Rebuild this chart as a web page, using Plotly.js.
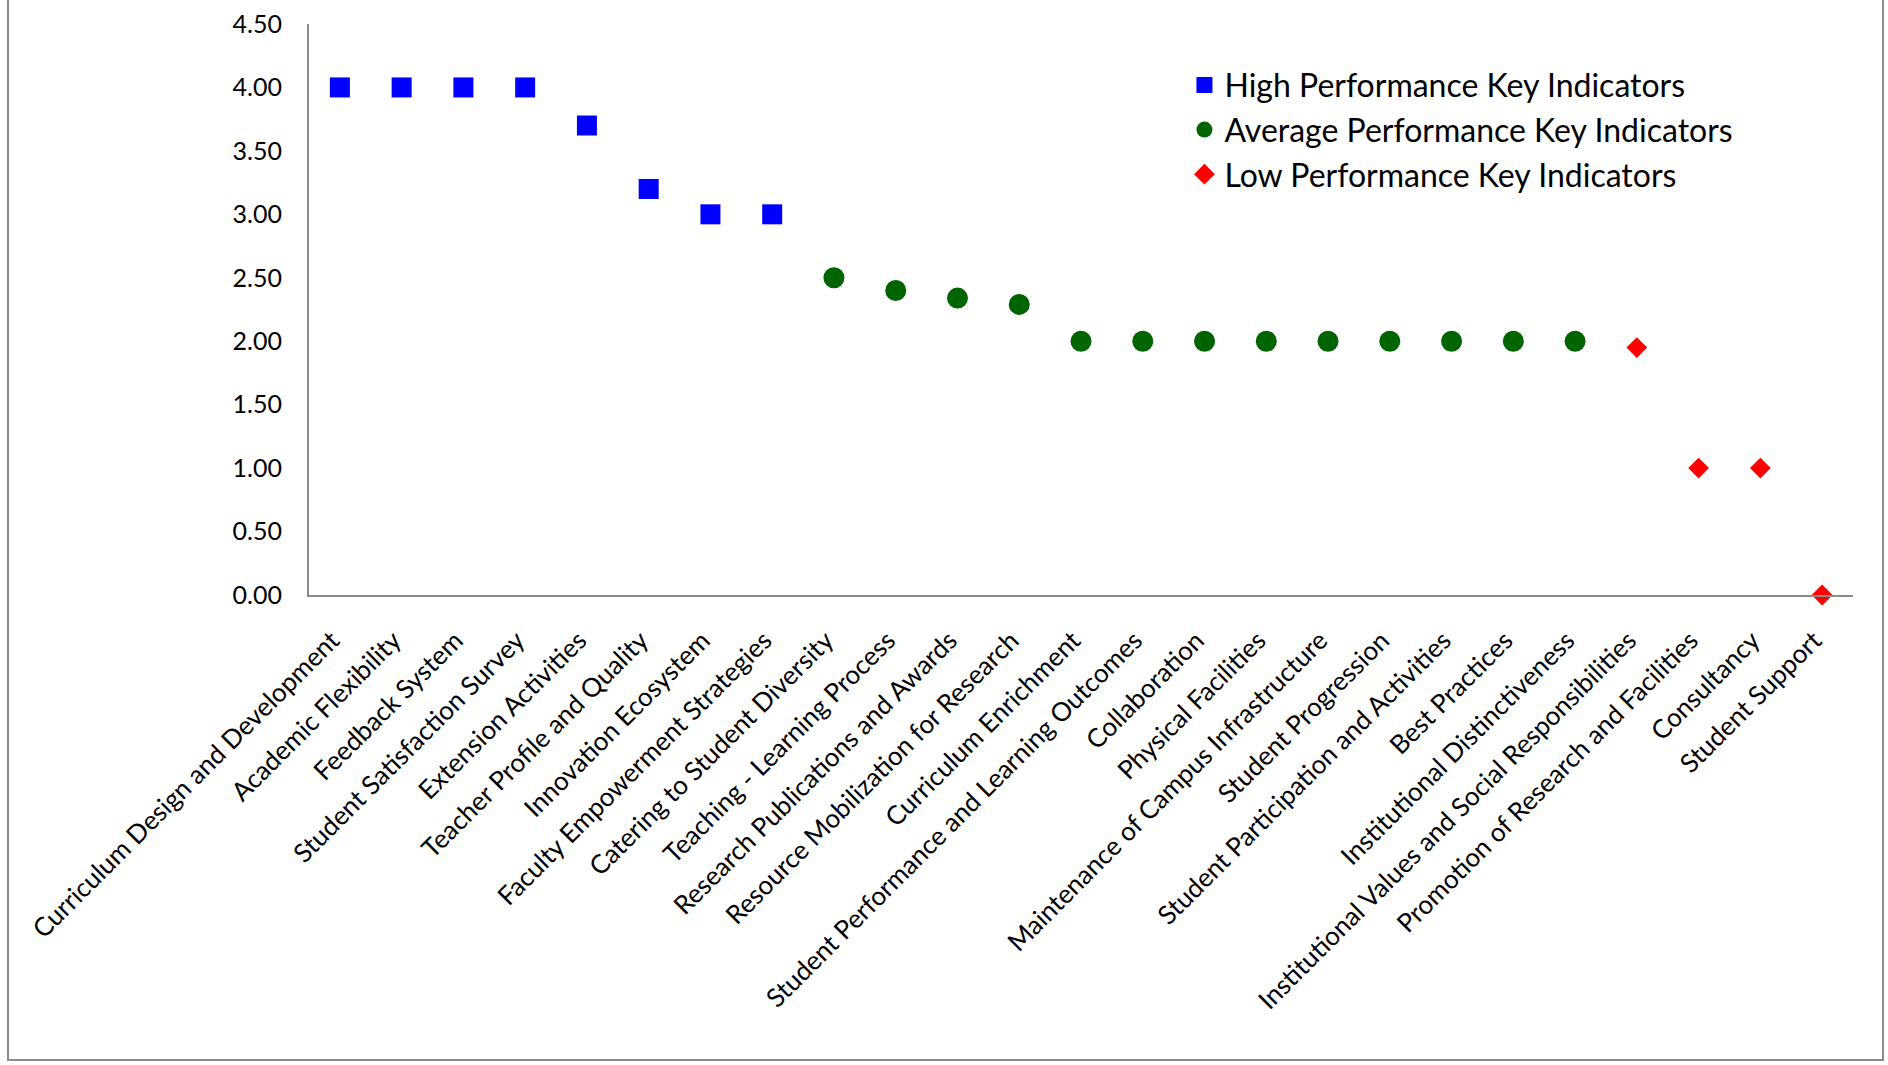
<!DOCTYPE html>
<html>
<head>
<meta charset="utf-8">
<script src="https://cdn.plot.ly/plotly-3.0.1.min.js"></script>
<style>
  html, body { margin: 0; padding: 0; background: #fff; }
  #wrap { position: relative; width: 1888px; height: 1065px; }
  #chart { width: 1888px; height: 1065px; }
  #frame { position: absolute; left: 7px; top: -3px; width: 1877px; height: 1064px;
           border: 2px solid #8c8c8c; box-sizing: border-box; pointer-events: none; }
</style>
</head>
<body>
<div id="wrap">
  <div id="chart"></div>
  <div id="frame"></div>
</div>
<script>
const highCategories = [
  "Curriculum Design and Development",
  "Academic Flexibility",
  "Feedback System",
  "Student Satisfaction Survey",
  "Extension Activities",
  "Teacher Profile and Quality",
  "Innovation Ecosystem",
  "Faculty Empowerment Strategies"
];
const highValues = [4.00, 4.00, 4.00, 4.00, 3.70, 3.20, 3.00, 3.00];

const averageCategories = [
  "Catering to Student Diversity",
  "Teaching - Learning Process",
  "Research Publications and Awards",
  "Resource Mobilization for Research",
  "Curriculum Enrichment",
  "Student Performance and Learning Outcomes",
  "Collaboration",
  "Physical Facilities",
  "Maintenance of Campus Infrastructure",
  "Student Progression",
  "Student Participation and Activities",
  "Best Practices",
  "Institutional Distinctiveness"
];
const averageValues = [2.50, 2.40, 2.34, 2.29, 2.00, 2.00, 2.00, 2.00, 2.00, 2.00, 2.00, 2.00, 2.00];

const lowCategories = [
  "Institutional Values and Social Responsibilities",
  "Promotion of Research and Facilities",
  "Consultancy",
  "Student Support"
];
const lowValues = [1.95, 1.00, 1.00, 0.00];

const seriesNames = [
  "High Performance Key Indicators",
  "Average Performance Key Indicators",
  "Low Performance Key Indicators"
];
const yTickValues = [0, 0.5, 1, 1.5, 2, 2.5, 3, 3.5, 4, 4.5];
const yTickLabels = ["0.00", "0.50", "1.00", "1.50", "2.00", "2.50", "3.00", "3.50", "4.00", "4.50"];

const allCategories = highCategories.concat(averageCategories, lowCategories);
const FONT = "Lato, 'Open Sans', sans-serif";

const traces = [
  {
    type: "scatter", mode: "markers", name: seriesNames[0], legendgroup: "h",
    x: highCategories, y: highValues, cliponaxis: false,
    marker: { symbol: "square", size: 20, color: "#0000ff" }
  },
  {
    type: "scatter", mode: "markers", name: seriesNames[1], legendgroup: "a",
    x: averageCategories, y: averageValues, cliponaxis: false,
    marker: { symbol: "circle", size: 21, color: "#006400" }
  },
  {
    type: "scatter", mode: "markers", name: seriesNames[2], legendgroup: "l",
    x: lowCategories, y: lowValues, cliponaxis: false,
    marker: { symbol: "diamond", size: 16, color: "#ff0000" }
  }
];

const layout = {
  width: 1888, height: 1065,
  paper_bgcolor: "#ffffff", plot_bgcolor: "#ffffff",
  margin: { l: 309, r: 35, t: 24, b: 470 },
  font: { family: FONT, size: 24, color: "#000000" },
  showlegend: true,
  legend: {
    x: 0.567, y: 0.941, xanchor: "left", yanchor: "top",
    font: { family: FONT, size: 32, color: "#000000" },
    bgcolor: "rgba(0,0,0,0)", borderwidth: 0,
    traceorder: "grouped", tracegroupgap: 0,
    itemsizing: "trace"
  },
  xaxis: {
    type: "category",
    categoryorder: "array", categoryarray: allCategories,
    range: [-0.5, allCategories.length - 0.5],
    showline: true, linecolor: "#8c8c8c", linewidth: 2,
    showgrid: false, zeroline: false, ticks: "",
    tickangle: -45, ticklabelstandoff: 18, ticklabelshift: -8,
    tickfont: { family: FONT, size: 26, color: "#000" },
    automargin: false
  },
  yaxis: {
    range: [0, 4.5],
    tickmode: "array", tickvals: yTickValues, ticktext: yTickLabels,
    showline: true, linecolor: "#8c8c8c", linewidth: 2,
    showgrid: false, zeroline: false, ticks: "",
    ticklabelstandoff: 20,
    tickfont: { family: FONT, size: 25, color: "#000" },
    automargin: false
  }
};

Plotly.newPlot("chart", traces, layout, { displayModeBar: false, staticPlot: true });
</script>
</body>
</html>
